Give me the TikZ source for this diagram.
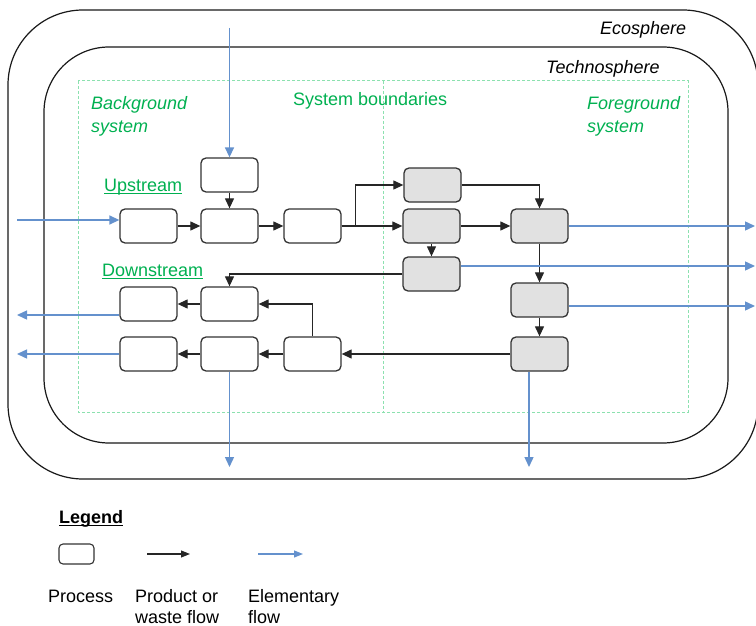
\documentclass[tikz,border=0pt]{standalone}
\usepackage{fontspec}
\setmainfont{Liberation Sans}
\usetikzlibrary{arrows.meta}
\definecolor{lcagreen}{RGB}{0,176,80}
\definecolor{flowblue}{RGB}{100,145,205}
\definecolor{dashgreen}{RGB}{140,225,175}
\definecolor{procgrey}{RGB}{225,225,225}
\begin{document}
\begin{tikzpicture}[x=1pt,y=-1pt,
  proc/.style={draw=black!80, line width=1.3pt, rounded corners=5pt, fill=white,
    minimum width=57pt, minimum height=34pt, inner sep=0pt},
  fproc/.style={proc, fill=procgrey},
  prod/.style={draw=black!85, line width=1.2pt, -{Triangle[length=10pt,width=9pt]}},
  elem/.style={draw=flowblue, line width=1.4pt, -{Triangle[length=10pt,width=9pt]}},
  lbl/.style={font=\fontsize{18}{22}\selectfont, inner sep=0pt, anchor=base west},
  glbl/.style={lbl, text=lcagreen},
  sphere/.style={draw=black!90, line width=1.2pt},
  bound/.style={draw=dashgreen, line width=1pt, dash pattern=on 3pt off 2pt}
]
\useasboundingbox (0,0) rectangle (756,626);
% spheres
\draw[sphere, rounded corners=75pt] (8,10) rectangle (758,479);
\draw[sphere, rounded corners=65pt] (44,47) rectangle (728,443);
% system boundaries
\draw[bound] (78,81) rectangle (688,412);
\draw[bound] (383,81) -- (383,412);
% labels
\node[lbl, font=\fontsize{18}{22}\selectfont\itshape] (eco) at (600,35) {Ecosphere};
\node[lbl, font=\fontsize{18}{22}\selectfont\itshape] (tech) at (546,74) {Technosphere};
\node[glbl, font=\fontsize{18}{22}\selectfont\itshape] (bg1) at (91,110) {Background};
\node[glbl, font=\fontsize{18}{22}\selectfont\itshape] (bg2) at (91,132) {system};
\node[glbl] (sb) at (293,106) {System boundaries};
\node[glbl, font=\fontsize{18}{22}\selectfont\itshape] (fg1) at (587,110) {Foreground};
\node[glbl, font=\fontsize{18}{22}\selectfont\itshape] (fg2) at (587,132) {system};
\node[glbl] (up) at (104,191) {Upstream};
\draw[lcagreen, line width=1pt] ([yshift=-2.5pt]up.base west) -- ([yshift=-2.5pt]up.base east);
\node[glbl] (down) at (102,276) {Downstream};
\draw[lcagreen, line width=1pt] ([yshift=-2.5pt]down.base west) -- ([yshift=-2.5pt]down.base east);
% processes
\node[proc] (T) at (229.5,175) {};
\node[proc] (A1) at (148.5,226) {};
\node[proc] (A2) at (229.5,226) {};
\node[proc] (A3) at (312.5,226) {};
\node[fproc] (F1) at (432.5,185) {};
\node[fproc] (F2) at (431.5,226) {};
\node[fproc] (F3) at (539.5,226) {};
\node[fproc] (F4) at (431.5,274) {};
\node[fproc] (F5) at (539.5,300) {};
\node[fproc] (F6) at (539.5,354) {};
\node[proc] (D1) at (148.5,304) {};
\node[proc] (D2) at (229.5,304) {};
\node[proc] (D3) at (148.5,354) {};
\node[proc] (D4) at (229.5,354) {};
\node[proc] (D5) at (312.5,354) {};
% product / waste flows
\draw[prod] (T) -- (A2);
\draw[prod] (A1) -- (A2);
\draw[prod] (A2) -- (A3);
\draw[prod] (A3.east) -- (F2.west);
\draw[prod] (A3.east) -- ++(14,0) |- (F1.west);
\draw[prod] (F1.east) -| (F3.north);
\draw[prod] (F2.east) -- (F3.west);
\draw[prod] (F2.south) -- (F4.north);
\draw[prod] (F3.south) -- (F5.north);
\draw[prod] (F5.south) -- (F6.north);
\draw[prod] (F4.west) -| (D2.north);
\draw[prod] (D2.west) -- (D1.east);
\draw[prod] (F6.west) -- (D5.east);
\draw[prod] (D5.north) |- (D2.east);
\draw[prod] (D5.west) -- (D4.east);
\draw[prod] (D4.west) -- (D3.east);
% elementary flows
\coordinate (topsrc) at (229.5,28);
\coordinate (lsrc) at (17,220);
\coordinate (rF3) at (755,226);
\coordinate (rF4) at (755,266);
\coordinate (rF5) at (755,306);
\coordinate (lD1) at (17,315);
\coordinate (lD3) at (17,354);
\coordinate (bD4) at (229.5,467);
\coordinate (bF6) at (529,467);
\draw[elem] (topsrc) -- (T.north);
\draw[elem] (lsrc) -- (lsrc -| A1.west);
\draw[elem] (F3.east) -- (rF3);
\draw[elem] (rF4 -| F4.east) -- (rF4);
\draw[elem] (rF5 -| F5.east) -- (rF5);
\draw[elem] (lD1 -| D1.west) -- (lD1);
\draw[elem] (D3.west) -- (lD3);
\draw[elem] (D4.south) -- (bD4);
\draw[elem] (bF6 |- F6.south) -- (bF6);
% legend
\node[lbl, font=\fontsize{18}{22}\selectfont\bfseries] (leg) at (59,523) {Legend};
\draw[black, line width=1pt] ([yshift=-2.5pt]leg.base west) -- ([yshift=-2.5pt]leg.base east);
\node[proc, minimum width=35pt, minimum height=20pt, rounded corners=4pt, line width=1.1pt] (lp) at (76.5,554) {};
\coordinate (la1) at (147,554);
\coordinate (la2) at (190,554);
\coordinate (lb1) at (258,554);
\coordinate (lb2) at (303,554);
\draw[prod, line width=1.1pt, -{Triangle[length=9pt,width=7pt]}] (la1) -- (la2);
\draw[elem, line width=1.1pt, -{Triangle[length=9pt,width=7pt]}] (lb1) -- (lb2);
\node[lbl] (t1) at (48,602) {Process};
\node[lbl] (t2) at (135,602) {Product or};
\node[lbl] (t3) at (135,623) {waste flow};
\node[lbl] (t4) at (248,602) {Elementary};
\node[lbl] (t5) at (248,623) {flow};
\end{tikzpicture}
\end{document}
